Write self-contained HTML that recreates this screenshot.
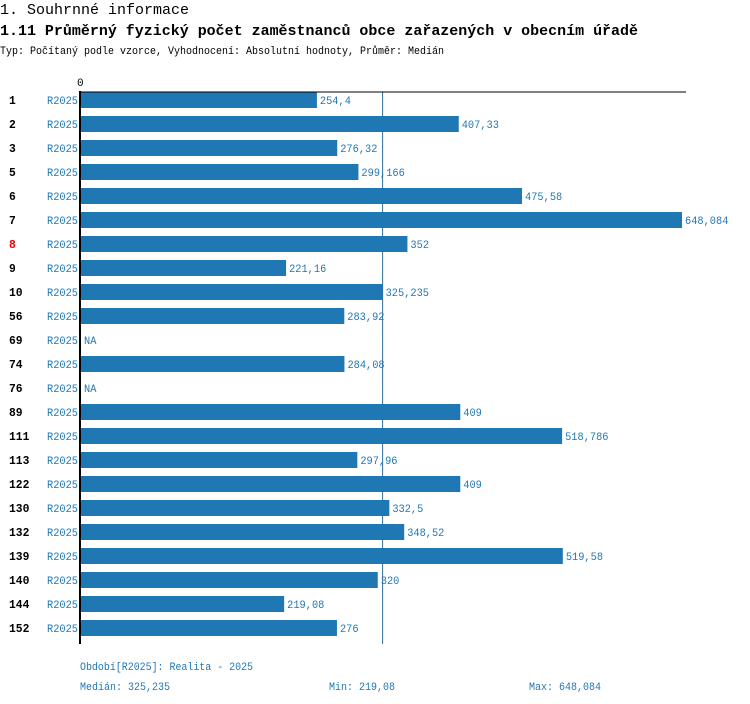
<!DOCTYPE html>
<html><head><meta charset="utf-8"><style>
body{margin:0;background:#fff}
svg{display:block}
text{font-family:"Liberation Mono",monospace}
</style></head><body>
<svg width="750" height="704" id="c">
<text x="0" y="14" font-size="15" textLength="189" lengthAdjust="spacingAndGlyphs">1. Souhrnné informace</text>
<text x="0" y="35" font-size="15" font-weight="bold" textLength="638" lengthAdjust="spacingAndGlyphs">1.11 Průměrný fyzický počet zaměstnanců obce zařazených v obecním úřadě</text>
<text x="0" y="54" font-size="11" textLength="444" lengthAdjust="spacingAndGlyphs">Typ: Počítaný podle vzorce, Vyhodnocení: Absolutní hodnoty, Průměr: Medián</text>
<text x="77" y="86" font-size="11">0</text>
<line id="med" y1="92" y2="644" stroke="#2e6f9e" stroke-width="1"/>
<g id="bars"></g>
<line x1="80" y1="92" x2="686" y2="92" stroke="#000" stroke-width="1"/>
<line x1="80" y1="91" x2="80" y2="644" stroke="#000" stroke-width="2"/>
<g fill="#1f77b4" font-size="11">
<text x="80" y="670" textLength="173" lengthAdjust="spacingAndGlyphs">Období[R2025]: Realita - 2025</text>
<text x="80" y="690" textLength="90" lengthAdjust="spacingAndGlyphs">Medián: 325,235</text>
<text x="329" y="690" textLength="66" lengthAdjust="spacingAndGlyphs">Min: 219,08</text>
<text x="529" y="690" textLength="72" lengthAdjust="spacingAndGlyphs">Max: 648,084</text>
</g>
</svg>
<script>
const categories=["1","2","3","5","6","7","8","9","10","56","69","74","76","89","111","113","122","130","132","139","140","144","152"];
const values=[254.4,407.33,276.32,299.166,475.58,648.084,352,221.16,325.235,283.92,null,284.08,null,409,518.786,297.96,409,332.5,348.52,519.58,320,219.08,276];
const valueLabels=["254,4","407,33","276,32","299,166","475,58","648,084","352","221,16","325,235","283,92","NA","284,08","NA","409","518,786","297,96","409","332,5","348,52","519,58","320","219,08","276"];
const medianValue=325.235;
const NS="http://www.w3.org/2000/svg";
const maxV=Math.max(...values.filter(v=>v!=null));
const x=v=>81+v*(601/maxV);
const y=i=>100+i*24;
const g=document.getElementById('bars');
function mk(tag,attrs){const e=document.createElementNS(NS,tag);for(const k in attrs)e.setAttribute(k,attrs[k]);return e;}
document.getElementById('med').setAttribute('x1',x(medianValue));
document.getElementById('med').setAttribute('x2',x(medianValue));
categories.forEach((c,i)=>{
  const cy=y(i);
  const t=mk('text',{x:9,y:cy+4,'font-size':11.5,'font-weight':'bold',fill:c==="8"?"#e00":"#000",textLength:c.length*6.8,lengthAdjust:'spacingAndGlyphs'});
  t.textContent=c;
  
  
  g.appendChild(t);
  const s=mk('text',{x:47,y:cy+4,'font-size':11,fill:'#1f77b4',textLength:31,lengthAdjust:'spacingAndGlyphs'});
  s.textContent="R2025";
  
  
  g.appendChild(s);
  const v=values[i];let endX=81;
  if(v!=null){
    const r=mk('rect',{x:81,y:cy-8,width:x(v)-81,height:16,fill:'#1f77b4'});
    
    
    g.appendChild(r);endX=x(v);
  }
  const lab=valueLabels[i];
  const l=mk('text',{x:endX+3,y:cy+4,'font-size':11,fill:'#1f77b4',textLength:lab.length*6.2,lengthAdjust:'spacingAndGlyphs'});
  l.textContent=lab;
  
  
  g.appendChild(l);
});
</script>
</body></html>
